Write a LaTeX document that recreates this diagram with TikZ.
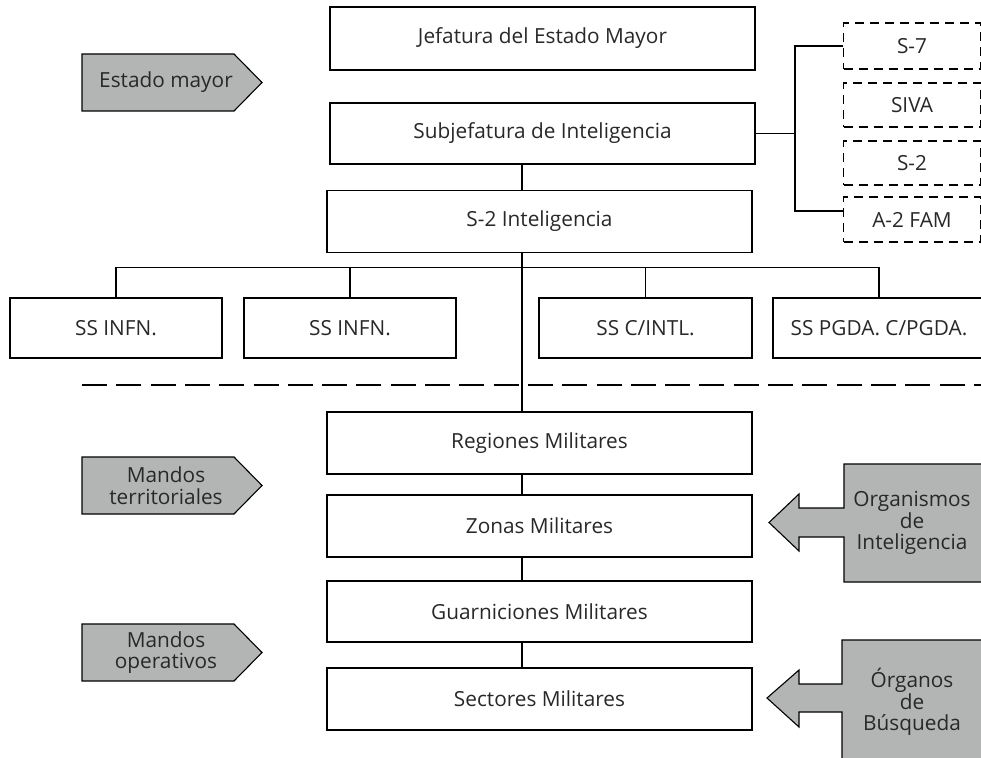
\documentclass[tikz,border=0pt]{standalone}
\usepackage{fontspec}
\setmainfont{Open Sans}
\usepackage{xcolor}
\usepackage{tikz}

\definecolor{gris}{RGB}{179,181,180}
\definecolor{tinta}{RGB}{40,40,40}

\begin{document}
\begin{tikzpicture}[x=1pt, y=-1pt, font=\fontsize{20.8}{21.7}\selectfont, text=tinta,
	caja/.style={draw, line width=1.3pt, inner sep=0pt, minimum width=425pt, minimum height=62pt},
	seccion/.style={draw, line width=1.3pt, inner sep=0pt, minimum width=212pt, minimum height=60pt},
	externo/.style={draw, dash pattern=on 9pt off 6pt, line width=1.1pt, inner sep=0pt, minimum width=137pt, minimum height=44pt},
	linea/.style={line width=1.1pt},
	flecha/.style={fill=gris, draw, line width=1.1pt, line join=miter},
	texto/.style={align=center, inner sep=0pt}]

\useasboundingbox (0,0) rectangle (981,757);

% columna central
\node[caja, minimum height=63pt] (jefatura)     at (542.5, 38.5) {Jefatura del Estado Mayor};
\node[caja, minimum height=61pt] (subjefatura)  at (542.5,133.5) {Subjefatura de Inteligencia};
\node[caja]                      (inteligencia) at (539.5,221.5) {S-2 Inteligencia};
\node[caja]                      (regiones)     at (539.5,443)   {Regiones Militares};
\node[caja]                      (zonas)        at (539.5,526)   {Zonas Militares};
\node[caja, minimum height=61pt] (guarniciones) at (539.5,611.5) {Guarniciones Militares};
\node[caja]                      (sectores)     at (539.5,699)   {Sectores Militares};

% secciones
\node[seccion]                    (infn1) at (116,  328) {SS INFN.};
\node[seccion]                    (infn2) at (350,  328) {SS INFN.};
\node[seccion, minimum width=213pt] (cintl) at (645.5,328) {SS C/INTL.};
\node[seccion]                    (pgda)  at (879,  328) {SS PGDA. C/PGDA.};

% organismos externos
\node[externo, minimum height=46pt] (s7)   at (912, 46)   {S-7};
\node[externo]                      (siva) at (912,105)   {SIVA};
\node[externo]                      (s2)   at (912,163)   {S-2};
\node[externo, minimum height=45pt] (a2)   at (912,219.5) {A-2 FAM};

\coordinate (tronco) at (522,0);
\coordinate (bus) at (795,0);

\foreach \a/\b in {subjefatura/inteligencia, inteligencia/regiones, regiones/zonas, zonas/guarniciones, guarniciones/sectores} {
	\draw[linea] (\a.south -| tronco) -- (\b.north -| tronco);
}

\draw[linea] (infn1.north) -- ++(0,-30) -| (pgda.north);
\foreach \n in {infn2, cintl} {
	\draw[linea] (\n.north) -- ++(0,-30);
}

\draw[linea] (subjefatura.east) -- (subjefatura.east -| bus);
\draw[linea] (s7.west) -- (s7.west -| bus) |- ([yshift=8.5pt]a2.west);

\draw[line width=1.3pt, dash pattern=on 25pt off 9.3pt] (82,385) -- (981,385);

% etiquetas
\foreach \y/\nombre/\texto in {82.5/mayor/{Estado mayor}, 485.5/territoriales/{Mandos\\territoriales}, 652.5/operativos/{Mandos\\operativos}} {
	\draw[flecha] (82,\y-28.5) -- (234,\y-28.5) -- (262,\y) -- (234,\y+28.5) -- (82,\y+28.5) -- cycle;
	\node[texto] (\nombre) at (166,\y) {\texto};
}

\draw[flecha] (990,464) -- (844,464) -- (844,508) -- (799,508) -- (799,494) -- (769,522.5) -- 
(799,551) -- (799,537) -- (844,537) -- (844,582) -- (990,582) -- cycle;
\node[texto] (organismos) at (912,523) {Organismos\\de\\Inteligencia};

\draw[flecha] (990,640) -- (842,640) -- (842,684) -- (799,684) -- (799,670) -- (767,698) -- 
(799,727) -- (799,712) -- (842,712) -- (842,770) -- (990,770) -- cycle;
\node[texto] (organos) at (912,702) {Órganos\\de\\Búsqueda};

\end{tikzpicture}
\end{document}
